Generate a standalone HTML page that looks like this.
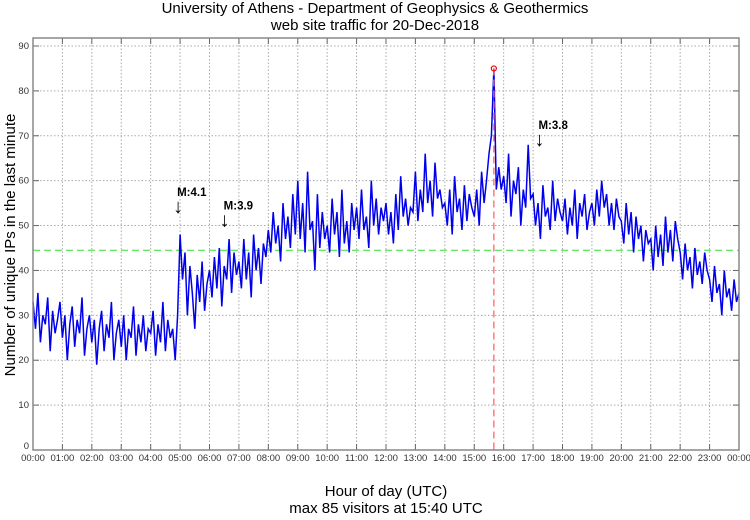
<!DOCTYPE html>
<html><head><meta charset="utf-8"><style>
body{margin:0;background:#fff;width:750px;height:515px;overflow:hidden;font-family:"Liberation Sans",sans-serif}
</style></head><body>
<svg id="chart" width="750" height="515" xmlns="http://www.w3.org/2000/svg" font-family="Liberation Sans, sans-serif">
<text x="375" y="13" font-size="15" text-anchor="middle">University of Athens - Department of Geophysics &amp; Geothermics</text>
<text x="375" y="30" font-size="15" text-anchor="middle">web site traffic for 20-Dec-2018</text>
<text transform="translate(15,245) rotate(-90)" font-size="15" text-anchor="middle">Number of unique IPs in the last minute</text>
<text x="386" y="496" font-size="15" text-anchor="middle">Hour of day (UTC)</text>
<text x="386" y="513" font-size="15" text-anchor="middle">max 85 visitors at 15:40 UTC</text>
<g id="grid"></g><g id="series"></g><g id="over"></g><g id="axes"></g>
</svg>
<script>
const hourLabels=["00:00","01:00","02:00","03:00","04:00","05:00","06:00","07:00","08:00","09:00","10:00","11:00","12:00","13:00","14:00","15:00","16:00","17:00","18:00","19:00","20:00","21:00","22:00","23:00","00:00"];
const yTicks=[0,10,20,30,40,50,60,70,80,90];
// visitors sampled every 5 minutes
const visitors=[
33,27,35,24,30,28,34,22,31,26,29,33,
25,30,20,28,32,23,29,26,34,21,27,30,
24,29,19,27,31,22,28,25,33,20,26,29,
23,30,20,27,25,32,21,28,24,30,22,27,
26,31,21,28,24,33,22,29,25,27,20,30,
48,38,44,30,41,35,27,39,33,42,31,37,
40,34,43,36,45,32,41,38,47,35,44,39,
42,36,47,38,44,34,48,40,45,37,46,43,
49,44,53,46,50,42,55,47,52,45,57,48,
60,47,55,44,62,49,51,40,57,45,53,47,
50,44,56,48,53,43,58,46,51,44,55,49,
54,47,58,49,52,45,60,50,56,48,54,51,
55,48,53,46,57,49,61,52,56,50,54,53,
62,51,58,53,66,55,60,52,64,56,58,54,
55,50,58,48,61,53,56,49,59,51,57,54,
52,58,50,62,55,60,66,70,85,58,63,58,
61,55,66,52,60,57,63,50,58,54,68,56,
57,50,55,47,59,52,54,49,60,51,56,53,
51,56,48,54,50,58,47,55,52,57,49,53,
55,50,58,52,60,54,57,50,55,49,56,52,
51,46,55,48,53,44,52,47,50,42,49,46,
47,40,50,43,48,41,52,44,49,42,51,47,
44,38,46,40,43,36,45,39,42,37,44,40,
38,33,41,35,37,30,40,34,36,31,38,33,35];
const meanLevel=[44.5];
const peakValue=[85];
const peakMinute=[940];
const quakeLabels=["M:4.1","M:3.9","M:3.8"];
const quakeMinutes=[298,393,1035];
const quakeValues=[53,50,68];

const X0=33,X1=739,Y0=450,YT=38;
const xs=m=>X0+(X1-X0)*m/1440;
const ys=v=>Y0-(Y0-46)*v/90;
const NS="http://www.w3.org/2000/svg";
function mk(p,t,a){const e=document.createElementNS(NS,t);for(const k in a)e.setAttribute(k,a[k]);p.appendChild(e);return e;}
const grid=document.getElementById('grid'),axes=document.getElementById('axes'),ser=document.getElementById('series'),over=document.getElementById('over');
hourLabels.forEach((l,i)=>{const x=xs(i*60);
 if(i>0&&i<24){const g=mk(grid,'line',{x1:x,x2:x,y1:YT,y2:Y0,stroke:'#aaa','stroke-dasharray':'1.5,2','stroke-width':1});
 
 }
 mk(axes,'line',{x1:x,x2:x,y1:Y0,y2:Y0-6,stroke:'#666'});mk(axes,'line',{x1:x,x2:x,y1:YT,y2:YT+6,stroke:'#666'});
 const t=mk(axes,'text',{x:x,y:461,'font-size':9.5,'text-anchor':'middle',fill:'#333'});t.textContent=l;
 
 });
yTicks.forEach(v=>{const y=ys(v);
 if(v>0){const g=mk(grid,'line',{x1:X0,x2:X1,y1:y,y2:y,stroke:'#aaa','stroke-dasharray':'1.5,2'});
 
 }
 mk(axes,'line',{x1:X0,x2:X0+6,y1:y,y2:y,stroke:'#666'});mk(axes,'line',{x1:X1-6,x2:X1,y1:y,y2:y,stroke:'#666'});
 const t=mk(axes,'text',{x:29,y:y+(v===0?-1:3),'font-size':9.5,'text-anchor':'end',fill:'#333'});t.textContent=v;
 
 });
const fr=mk(axes,'rect',{x:X0,y:YT,width:X1-X0,height:Y0-YT,fill:'none',stroke:'#888','stroke-width':1.5});


const ml=mk(ser,'line',{x1:X0,x2:X1,y1:ys(meanLevel[0]),y2:ys(meanLevel[0]),stroke:'#33dd33','stroke-dasharray':'7,4'});


const pts=visitors.map((v,i)=>xs(i*5).toFixed(1)+','+ys(v).toFixed(1)).join(' ');
const pl=mk(ser,'polyline',{points:pts,fill:'none',stroke:'#0000ee','stroke-width':1.5});


const pk=mk(over,'line',{x1:xs(peakMinute[0]),x2:xs(peakMinute[0]),y1:ys(peakValue[0]),y2:Y0,stroke:'#ff6666','stroke-dasharray':'7,4','stroke-width':1.3});


const pc=mk(over,'circle',{cx:xs(peakMinute[0]),cy:ys(peakValue[0]),r:2.5,fill:'none',stroke:'#ee0000','stroke-width':1.2});


quakeLabels.forEach((l,i)=>{const x=xs(quakeMinutes[i]),y=ys(quakeValues[i]);
 const a=mk(over,'text',{x:x-1,y:y+1,'font-size':20,'text-anchor':'middle'});a.textContent='↓';
 
 
 const t=mk(over,'text',{x:x-2,y:y-16,'font-size':11.5,'font-weight':'bold'});t.textContent=l;
 
 });
</script>
</body></html>
